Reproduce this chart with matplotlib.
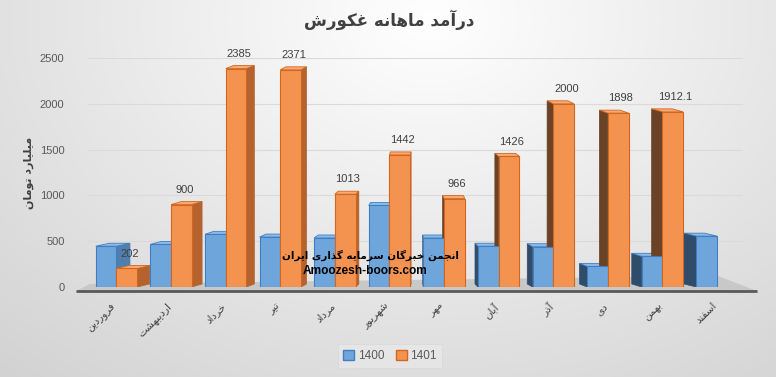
import numpy as np
import matplotlib
matplotlib.use('Agg')
import matplotlib.pyplot as plt
from matplotlib.patches import Polygon, Patch

# ---------------- data ----------------
months = ['فروردین', 'اردیبهشت', 'خرداد', 'تیر', 'مرداد', 'شهریور',
          'مهر', 'آبان', 'آذر', 'دی', 'بهمن', 'اسفند']
series_names = ['1400', '1401']
v1400 = [445, 465, 575, 545, 535, 890, 535, 445, 440, 225, 335, 555]
v1401 = [202, 900, 2385, 2371, 1013, 1442, 966, 1426, 2000, 1898, 1912.1, np.nan]
yticks = [0, 500, 1000, 1500, 2000, 2500]
title = 'درآمد ماهانه غکورش'
ylabel = 'میلیارد تومان'
wm1 = 'انجمن خبرگان سرمایه گذاری ایران'
wm2 = 'Amoozesh-boors.com'

# ---------------- simple Persian shaping ----------------
FORMS = {
    'ا': ('\uFE8D', '\uFE8E', None, None),
    'آ': ('\uFE81', '\uFE82', None, None),
    'ب': ('\uFE8F', '\uFE90', '\uFE91', '\uFE92'),
    'پ': ('\uFB56', '\uFB57', '\uFB58', '\uFB59'),
    'ت': ('\uFE95', '\uFE96', '\uFE97', '\uFE98'),
    'ج': ('\uFE9D', '\uFE9E', '\uFE9F', '\uFEA0'),
    'خ': ('\uFEA5', '\uFEA6', '\uFEA7', '\uFEA8'),
    'د': ('\uFEA9', '\uFEAA', None, None),
    'ذ': ('\uFEAB', '\uFEAC', None, None),
    'ر': ('\uFEAD', '\uFEAE', None, None),
    'ز': ('\uFEAF', '\uFEB0', None, None),
    'س': ('\uFEB1', '\uFEB2', '\uFEB3', '\uFEB4'),
    'ش': ('\uFEB5', '\uFEB6', '\uFEB7', '\uFEB8'),
    'غ': ('\uFECD', '\uFECE', '\uFECF', '\uFED0'),
    'ف': ('\uFED1', '\uFED2', '\uFED3', '\uFED4'),
    '\u06A9': ('\uFB8E', '\uFB8F', '\uFB90', '\uFB91'),
    'گ': ('\uFB92', '\uFB93', '\uFB94', '\uFB95'),
    'ل': ('\uFEDD', '\uFEDE', '\uFEDF', '\uFEE0'),
    'م': ('\uFEE1', '\uFEE2', '\uFEE3', '\uFEE4'),
    'ن': ('\uFEE5', '\uFEE6', '\uFEE7', '\uFEE8'),
    'ه': ('\uFEE9', '\uFEEA', '\uFEEB', '\uFEEC'),
    'و': ('\uFEED', '\uFEEE', None, None),
    '\u06CC': ('\uFBFC', '\uFBFD', '\uFBFE', '\uFBFF'),
}


def fa(text):
    text = text.replace('\u064A', '\u06CC').replace('\u0643', '\u06A9')
    ch = list(text)
    out = []
    for i, c in enumerate(ch):
        if c not in FORMS:
            out.append(c)
            continue
        prev = ch[i - 1] if i > 0 else None
        nxt = ch[i + 1] if i + 1 < len(ch) else None
        jp = prev in FORMS and FORMS[prev][2] is not None
        jn = nxt in FORMS and FORMS[c][2] is not None
        iso, fin, ini, med = FORMS[c]
        if jp and jn:
            out.append(med)
        elif jp:
            out.append(fin)
        elif jn:
            out.append(ini)
        else:
            out.append(iso)
    return ''.join(out)[::-1]


# ---------------- figure ----------------
W, H = 776, 377
fig = plt.figure(figsize=(W / 100, H / 100), dpi=100)

# background gradient
bg = fig.add_axes([0, 0, 1, 1], zorder=-10)
yy, xx = np.mgrid[0:H, 0:W]
d = np.sqrt(((xx - 430) / 520.0) ** 2 + ((yy - 20) / 380.0) ** 2)
val = (255 - 36 * d) / 255.0
img = np.dstack([val, val, val])
bg.imshow(img, extent=[0, 1, 0, 1], aspect='auto', origin='upper')
bg.set_xlim(0, 1)
bg.set_ylim(0, 1)
bg.axis('off')


def P(x, y):
    return (x / W, 1 - y / H)


# floor
floor = Polygon([P(76, 291), P(757, 291), P(718, 276), P(90, 284)],
                closed=True, fc='#c8c8c8', ec='none', zorder=1)
bg.add_patch(floor)
bg.plot([76 / W, 757 / W], [1 - 290.5 / H] * 2, color='#595959', lw=2, zorder=2,
        solid_capstyle='butt')

# main axes
left_px, right_px = 88.1, 743.3
unit_px = (right_px - left_px) / 12
ax = fig.add_axes([left_px / W, 1 - 287 / H, (right_px - left_px) / W, 229 / H])
ax.patch.set_alpha(0)
ax.set_xlim(-0.5, 11.5)
ax.set_ylim(0, 2500)
for s in ax.spines.values():
    s.set_visible(False)
ax.set_yticks(yticks)
ax.set_yticklabels([str(t) for t in yticks], family='Liberation Sans')
ax.yaxis.grid(True, color='#dadada', lw=0.8)
ax.set_axisbelow(True)
ax.tick_params(axis='y', length=0, pad=17, labelsize=8, labelcolor='#595959')

x = np.arange(len(months))
ax.set_xticks(x - 0.08)
ax.set_xticklabels([fa(m) for m in months], rotation=45, ha='right', va='top',
                   rotation_mode='anchor', fontsize=7.5, color='#404040',
                   family='DejaVu Sans')
ax.tick_params(axis='x', length=0, pad=10)

bw = 0.38
b1 = ax.bar(x - 0.36, v1400, width=bw, align='edge', color='#6ea6dc',
            edgecolor='#3f7ec2', lw=0.8, zorder=4)
b2 = ax.bar(x + 0.02, v1401, width=bw, align='edge', color='#f4934f',
            edgecolor='#d2661f', lw=0.8, zorder=5)

styles = [
    (b1, '#4f7fae', '#2f4c6b', '#8dbbe6', 2),
    (b2, '#b4622e', '#6a4226', '#f7aa74', 3),
]
ypp = 2500 / 229.0
for cont, side_light, side_dark, top_c, z in styles:
    for p in cont.patches:
        h = p.get_height()
        if not np.isfinite(h):
            continue
        x0, w = p.get_x(), p.get_width()
        cx_px = left_px + (x0 + w / 2 + 0.5) * unit_px
        dx_px = -0.043 * (cx_px - 420)
        dy_px = 3.0
        ddx, ddy = dx_px / unit_px, dy_px * ypp
        if ddx > 0:
            side = [(x0 + w, 0), (x0 + w + ddx, ddy), (x0 + w + ddx, h + ddy), (x0 + w, h)]
            sc = side_light
        else:
            side = [(x0, 0), (x0 + ddx, ddy), (x0 + ddx, h + ddy), (x0, h)]
            sc = side_dark
        ax.add_patch(Polygon(side, closed=True, fc=sc, ec=sc, lw=0.5, zorder=z))
        top = [(x0, h), (x0 + w, h), (x0 + w + ddx, h + ddy), (x0 + ddx, h + ddy)]
        ax.add_patch(Polygon(top, closed=True, fc=top_c, ec=p.get_edgecolor(),
                             lw=0.6, zorder=z))

# data labels for 1401
for p, v in zip(b2.patches, v1401):
    if not np.isfinite(v):
        continue
    x0, w = p.get_x(), p.get_width()
    ax.annotate(f'{v:g}', (x0 + w / 2 + 0.05, v), xytext=(0, 7),
                textcoords='offset points', ha='center', va='bottom',
                fontsize=8, color='#404040', family='Liberation Sans', zorder=8)

# title, y label
fig.text(389 / W, 1 - 20 / H, fa(title), ha='center', va='center', fontsize=12,
         fontweight='bold', color='#404040', family='DejaVu Sans')
fig.text(29 / W, 1 - 173 / H, fa(ylabel), rotation=90, ha='center', va='center',
         fontsize=8, fontweight='bold', color='#404040', family='DejaVu Sans')

# watermark
fig.text(370 / W, 1 - 255 / H, fa(wm1), ha='center', va='center', fontsize=7.5,
         fontweight='bold', color='black', family='DejaVu Sans', zorder=20)
fig.text(365 / W, 1 - 271 / H, wm2, ha='center', va='center', fontsize=8.6,
         fontweight='bold', color='black', family='Liberation Sans', zorder=20)

# legend
handles = [Patch(fc='#6ea6dc', ec='#3f7ec2'), Patch(fc='#f4934f', ec='#d2661f')]
leg = fig.legend(handles, series_names, loc='center', bbox_to_anchor=(390 / W, 1 - 356 / H),
                 ncol=2, frameon=True, handlelength=0.9, handleheight=0.9,
                 handletextpad=0.3, columnspacing=1.0, borderpad=0.5,
                 prop={'family': 'Liberation Sans', 'size': 8.5})
leg.get_frame().set_facecolor('#e8e8e8')
leg.get_frame().set_edgecolor('#d8d8d8')
leg.get_frame().set_linewidth(0.6)
leg.get_frame().set_boxstyle('square', pad=0)
for t in leg.get_texts():
    t.set_color('#595959')

fig.savefig('out.png', dpi=100)
